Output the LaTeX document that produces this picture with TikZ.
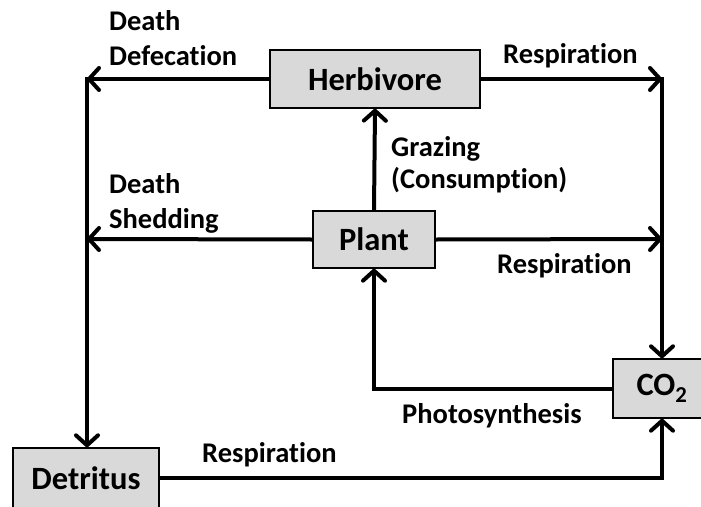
\documentclass[tikz,border=0pt]{standalone}
\usepackage{fontspec}
\setmainfont{Carlito}[Ligatures={NoCommon}]
\usetikzlibrary{arrows.meta}
\tikzset{
  box/.style={draw=black, line width=1.4pt, fill={rgb,255:red,217;green,217;blue,217}, inner sep=0pt,
    font=\fontsize{32.5}{36}\selectfont\bfseries},
  lbl/.style={anchor=base west, inner sep=0pt, font=\fontsize{28.5}{34}\selectfont\bfseries},
  flow/.style={line width=4pt, -{Straight Barb[length=10pt,width=22pt,line cap=round,line join=round]}},
  seg/.style={line width=4pt, line cap=rect},
}
\begin{document}
\begin{tikzpicture}[x=1pt,y=-1pt]
\useasboundingbox (0,0) rectangle (701,506);
\node[box, minimum width=210pt, minimum height=58pt] (herb) at (375,79) {Herbivore};
\node[box, minimum width=122pt, minimum height=57pt] (plant) at (374,239.5) {Plant};
\node[box, minimum width=98pt, minimum height=59pt] (co2) at (662,388.5) {CO\textsubscript{2}};
\node[box, minimum width=146pt, minimum height=60pt] (det) at (86,478) {Detritus};
\coordinate (L1) at (87,79);
\coordinate (R1) at (662,79);
\coordinate (L2) at (87,239);
\coordinate (R2) at (662,239);
% connectors
\draw[flow] (herb.west) -- (L1);
\draw[flow] (herb.east) -- (R1);
\draw[flow] (plant.west) -- (L2);
\draw[flow] (plant.east) -- (R2);
\draw[flow] (plant.north) -- (herb.south);
\draw[seg] (L1) -- (L2);
\draw[flow] (L2) -- (L2 |- det.north);
\draw[seg] (R1) -- (R2);
\draw[flow] (R2) -- (co2.north);
\draw[flow, line join=miter] (co2.west) -| (plant.south);
\draw[flow, line join=miter] (det.east) -| (co2.south);
% labels
\node[lbl] (l1) at (109,30) {Death};
\node[lbl] (l2) at (109,65) {Defecation};
\node[lbl] (l3) at (109,193) {Death};
\node[lbl] (l4) at (109,228) {Shedding};
\node[lbl] (l5) at (503,63) {Respiration};
\node[lbl] (l6) at (391,156) {Grazing};
\node[lbl] (l7) at (391,188) {(Consumption)};
\node[lbl] (l8) at (497,273) {Respiration};
\node[lbl] (l9) at (402,423) {Photosynthesis};
\node[lbl] (l10) at (202,462) {Respiration};
\end{tikzpicture}
\end{document}
